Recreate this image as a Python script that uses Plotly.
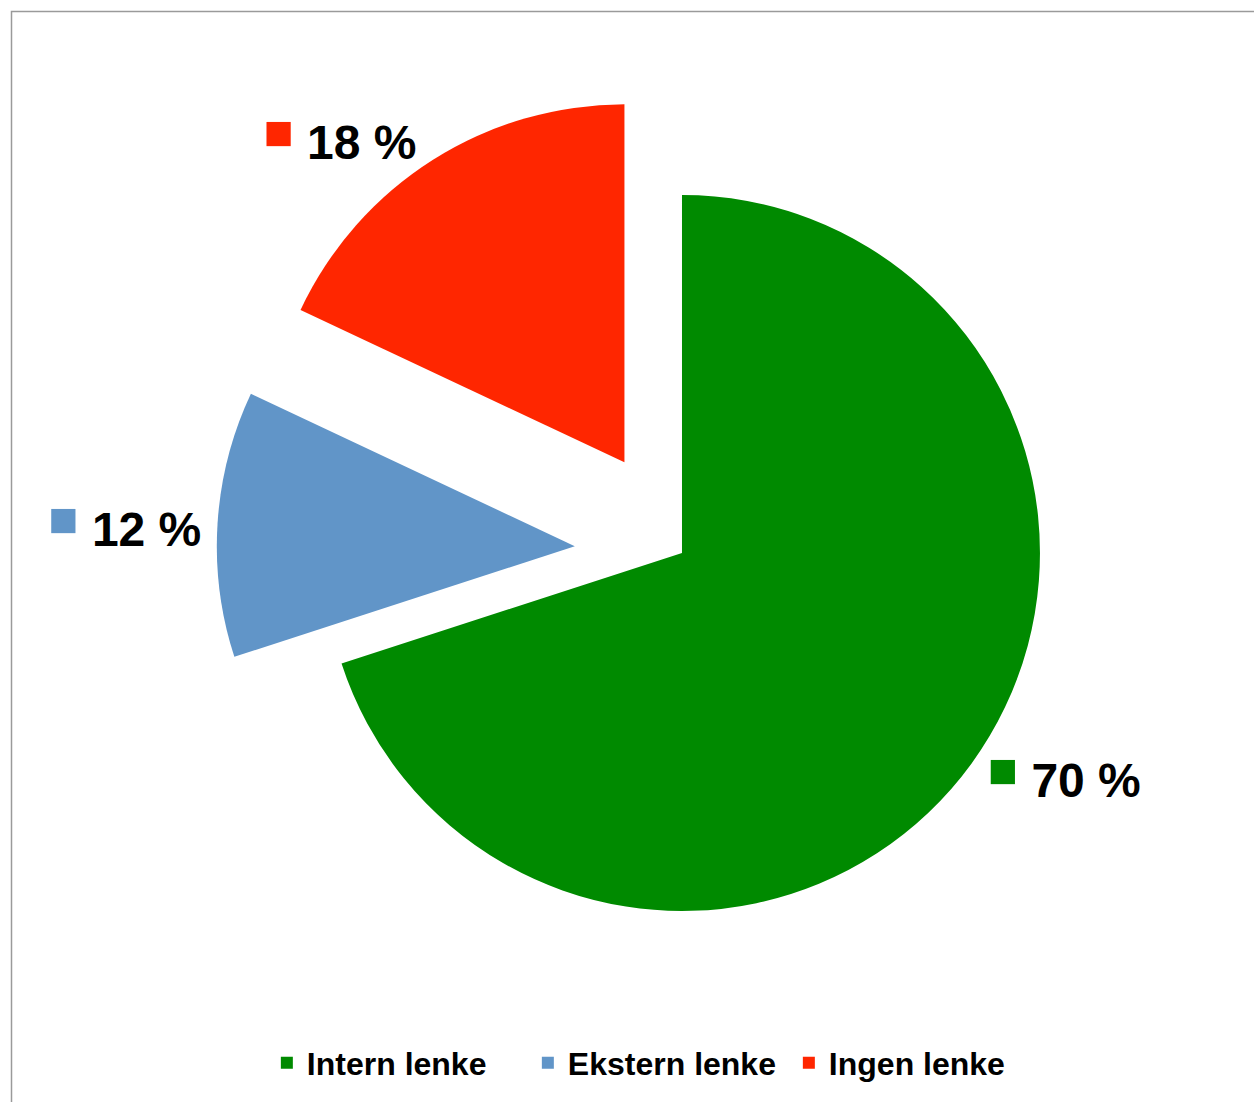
import plotly.graph_objects as go

# Share of links by type
categories = ["Intern lenke", "Ekstern lenke", "Ingen lenke"]
shares = [70, 12, 18]
colors = ["#008A00", "#6195C8", "#FF2600"]
pulls = [0, 0.3, 0.3]

W, H = 1254, 1102
FONT = "Liberation Sans, Arial, Helvetica, sans-serif"

# Data label: a colour key square followed by the value
labels_txt = [
    f"<span style='color:{c};font-size:50px;baseline-shift:10px'>■</span> {v} %"
    for c, v in zip(colors, shares)
]

fig = go.Figure(
    go.Pie(
        labels=categories,
        values=shares,
        text=labels_txt,
        texttemplate="%{text}",
        textinfo="text",
        textposition="outside",
        textfont=dict(family=FONT, size=48, color="black", weight="bold"),
        marker=dict(colors=colors, line=dict(width=0)),
        pull=pulls,
        sort=False,
        direction="clockwise",
        rotation=0,
        hole=0,
        automargin=False,
        domain=dict(x=[0.1727, 0.9150], y=[0.0759, 0.9205]),
        showlegend=True,
    )
)

fig.update_layout(
    width=W,
    height=H,
    margin=dict(l=0, r=0, t=0, b=0, autoexpand=False),
    paper_bgcolor="white",
    plot_bgcolor="white",
    legend=dict(
        orientation="h",
        x=0.525,
        xanchor="center",
        y=1 - 1063 / H,
        yanchor="middle",
        font=dict(family=FONT, size=32, color="black", weight="bold"),
        entrywidth=216,
        entrywidthmode="pixels",
        bgcolor="rgba(0,0,0,0)",
    ),
    shapes=[
        dict(
            type="rect",
            xref="paper",
            yref="paper",
            x0=11.5 / W,
            x1=1.05,
            y0=-0.05,
            y1=1 - 11.5 / H,
            line=dict(color="#9A9A9A", width=1.5),
            fillcolor="rgba(0,0,0,0)",
            layer="below",
        )
    ],
)

fig.write_html("out.html")
